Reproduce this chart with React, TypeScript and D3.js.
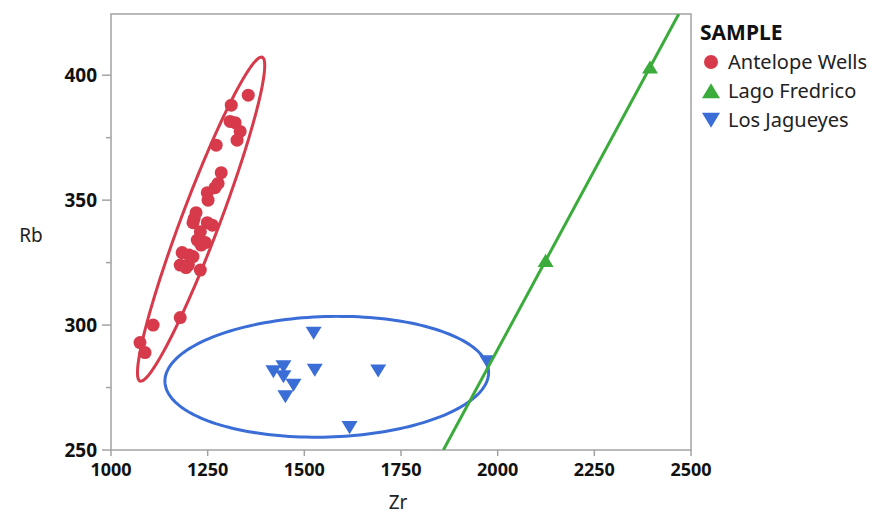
import * as d3 from "d3";
import React from "react";

// --- data ---
const antelopeWells: [number, number][] = [
    [1355, 392], [1311, 388], [1308, 381.5], [1321, 381], [1334, 377.5],
    [1326, 374], [1272, 372], [1285, 361], [1277, 356.7], [1269, 355],
    [1249, 353], [1251, 350], [1220, 345], [1215, 342.6], [1212, 341],
    [1249, 341], [1262, 340], [1231, 337.4], [1223, 334], [1244, 333],
    [1233, 332], [1184, 329], [1202, 328], [1179, 324], [1200, 324],
    [1231, 322], [1194, 323], [1212, 327.4], [1179, 303], [1109, 300],
    [1075, 293], [1088, 289],
];
const lagoFredrico: [number, number][] = [
    [2394, 403.2], [2124, 325.8],
];
const losJagueyes: [number, number][] = [
    [1524, 296.8], [1446, 283.4], [1420, 281.4], [1446, 279.4], [1472, 276],
    [1451, 271.4], [1527, 282], [1691, 281.7], [1617, 259], [1973, 285.4],
];

// density ellipses: center, major half-vector, minor half-vector (data units)
const redEllipse = { c: [1233, 342.4], a: [158, 64.8], b: [46, -2.7] };
const blueEllipse = { c: [1558, 279.3], a: [418.5, 2.0], b: [4.8, -24.1] };

const xTicks = [1000, 1250, 1500, 1750, 2000, 2250, 2500];
const yTicks = [250, 300, 350, 400];
const yMinor = [275, 325, 375];
const legendItems = ["Antelope Wells", "Lago Fredrico", "Los Jagueyes"];

const RED = "#d63a4b";
const GREEN = "#3bac3c";
const BLUE = "#3b6dd7";
const GREY = "#a3a3a3";
const FONT = "'Noto Sans', 'Open Sans', sans-serif";

export default function App() {
    const W = 888, H = 516;
    const left = 111, right = 691, top = 14, bottom = 450;

    const x = d3.scaleLinear().domain([1000, 2500]).range([left, right]);
    const y = d3.scaleLinear().domain([250, 424.5]).range([bottom, top]);

    const ellipsePath = (e: { c: number[]; a: number[]; b: number[] }) => {
        const ts = d3.range(0, 2 * Math.PI + 0.01, Math.PI / 90);
        return d3
            .line<number>()
            .x((t) => x(e.c[0] + Math.cos(t) * e.a[0] + Math.sin(t) * e.b[0]))
            .y((t) => y(e.c[1] + Math.cos(t) * e.a[1] + Math.sin(t) * e.b[1]))(ts) + "Z";
    };

    // fit line through the Lago Fredrico points, extended across the frame
    const [p1, p2] = lagoFredrico;
    const slope = (p2[1] - p1[1]) / (p2[0] - p1[0]);
    const xAt = (yv: number) => p1[0] + (yv - p1[1]) / slope;
    const yd = y.domain();

    const tri = (cx: number, cy: number, up: boolean, s = 8) =>
        up
            ? `M${cx},${cy - s * 0.85}L${cx + s},${cy + s * 0.8}L${cx - s},${cy + s * 0.8}Z`
            : `M${cx},${cy + s * 0.85}L${cx + s},${cy - s * 0.8}L${cx - s},${cy - s * 0.8}Z`;

    return (
        <svg width={W} height={H} style={{ position: "absolute", left: 0, top: 0, background: "#fff" }}
            fontFamily={FONT}>
            <defs>
                <clipPath id="plot">
                    <rect x={left} y={top} width={right - left} height={bottom - top} />
                </clipPath>
            </defs>

            {/* frame */}
            <rect x={left} y={top} width={right - left} height={bottom - top} fill="none" stroke={GREY} strokeWidth={1.5} />

            {/* y axis */}
            {yTicks.map((t) => (
                <g key={t}>
                    <line x1={left - 9} x2={left} y1={y(t)} y2={y(t)} stroke={GREY} strokeWidth={1.5} />
                    <text x={97} y={y(t)} dy="0.36em" textAnchor="end" fontSize={19} fontWeight="bold" fill="#111">{t}</text>
                </g>
            ))}
            {yMinor.map((t) => (
                <line key={t} x1={left - 5} x2={left} y1={y(t)} y2={y(t)} stroke={GREY} strokeWidth={1.5} />
            ))}
            <text x={31} y={235} dy="0.36em" textAnchor="middle" fontSize={19} fill="#222">Rb</text>

            {/* x axis */}
            {xTicks.map((t) => (
                <g key={t}>
                    <line x1={x(t)} x2={x(t)} y1={bottom} y2={bottom + 6} stroke={GREY} strokeWidth={1.5} />
                    <text x={x(t)} y={470} dy="0.36em" textAnchor="middle" fontSize={18} fontWeight="bold" fill="#111">{t}</text>
                </g>
            ))}
            <text x={398} y={502} dy="0.36em" textAnchor="middle" fontSize={19} fill="#222">Zr</text>

            <g clipPath="url(#plot)">
                {antelopeWells.map((d, i) => (
                    <circle key={i} cx={x(d[0])} cy={y(d[1])} r={6.5} fill={RED} />
                ))}
                {losJagueyes.map((d, i) => (
                    <path key={i} d={tri(x(d[0]), y(d[1]), false)} fill={BLUE} />
                ))}
                {lagoFredrico.map((d, i) => (
                    <path key={i} d={tri(x(d[0]), y(d[1]), true)} fill={GREEN} />
                ))}
                <path d={ellipsePath(redEllipse)} fill="none" stroke={RED} strokeWidth={3} />
                <path d={ellipsePath(blueEllipse)} fill="none" stroke={BLUE} strokeWidth={3} />
                <line x1={x(xAt(yd[0]))} y1={y(yd[0])} x2={x(xAt(yd[1]))} y2={y(yd[1])} stroke={GREEN} strokeWidth={3} />
            </g>

            {/* legend */}
            <text x={700} y={32} dy="0.36em" fontSize={21} fontWeight="bold" fill="#111">SAMPLE</text>
            {legendItems.map((name, i) => {
                const cy = 62 + i * 29;
                return (
                    <g key={name}>
                        {i === 0 && <circle cx={711} cy={cy} r={7} fill={RED} />}
                        {i === 1 && <path d={tri(711, cy, true, 9)} fill={GREEN} />}
                        {i === 2 && <path d={tri(711, cy, false, 9)} fill={BLUE} />}
                        <text x={728} y={cy} dy="0.36em" fontSize={20} fill="#222">{name}</text>
                    </g>
                );
            })}
        </svg>
    );
}
